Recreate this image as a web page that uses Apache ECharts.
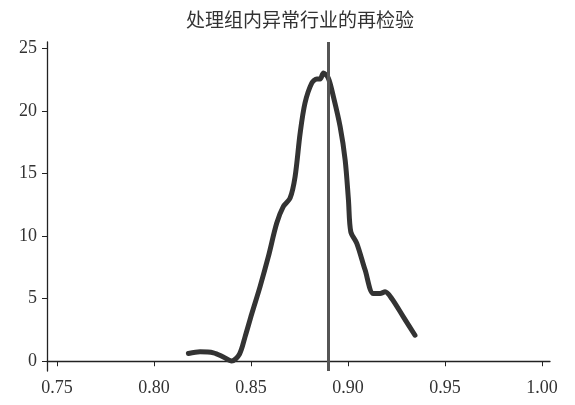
<!DOCTYPE html>
<html>
<head>
<meta charset="utf-8">
<script src="https://cdn.jsdelivr.net/npm/echarts@6/dist/echarts.min.js"></script>
<style>html,body{margin:0;padding:0;background:#fff}#c{width:575px;height:405px}</style>
</head>
<body>
<div id="c"></div>
<script>
const titleText = "处理组内异常行业的再检验";
const xValues = [0.8177,0.8237,0.8306,0.8357,0.8400,0.8440,0.8469,0.8504,0.8546,0.8589,0.8632,0.8666,0.8701,0.8727,0.8753,0.8778,0.8813,0.8839,0.8856,0.8873,0.8898,0.8924,0.8959,0.8985,0.9002,0.9014,0.9045,0.9088,0.9130,0.9165,0.9191,0.9225,0.9285,0.9345];
const yValues = [0.62,0.75,0.67,0.34,0.02,0.56,1.95,3.82,5.95,8.36,11.03,12.36,13.04,14.77,18.24,20.65,22.25,22.57,22.57,23.05,22.65,21.18,18.77,16.1,12.9,10.36,9.43,7.29,5.42,5.42,5.55,5.02,3.55,2.08];
const xTicks = [0.75,0.80,0.85,0.90,0.95,1.00];
const yTicks = [0,5,10,15,20,25];
const refLineX = 0.8865;

const chart = echarts.init(document.getElementById('c'), null, {renderer:'canvas'});
const axisFont = {fontFamily:'Liberation Serif', fontSize:18, color:'#333'};
chart.setOption({
  animation:false,
  title:{text:titleText,left:295,top:5,textAlign:'center',
    textStyle:{fontFamily:'Noto Sans CJK SC',fontSize:19,fontWeight:'normal',color:'#333'}},
  grid:{left:47,top:42,width:503,height:329},
  xAxis:{type:'value',min:0.7448,max:1.0041,
    axisLine:{lineStyle:{color:'#222',width:1.3}},
    axisTick:{show:true,length:5,customValues:xTicks,lineStyle:{color:'#222'}},
    axisLabel:Object.assign({customValues:xTicks,margin:8,formatter:v=>v.toFixed(2)},axisFont),
    splitLine:{show:false}},
  yAxis:{type:'value',min:-0.78,max:25.53,
    axisLine:{show:true,lineStyle:{color:'#222',width:1.3}},
    axisTick:{show:true,length:5,customValues:yTicks,lineStyle:{color:'#222'}},
    axisLabel:Object.assign({customValues:yTicks,margin:10},axisFont),
    splitLine:{show:false}},
  series:[{type:'line',data:xValues.map((x,i)=>[x,yValues[i]]),
    smooth:0.3,showSymbol:false,symbol:'none',
    lineStyle:{color:'#333',width:5,cap:'round',join:'round'},
    markLine:{silent:true,symbol:'none',label:{show:false},
      lineStyle:{color:'#555',width:3,type:'solid'},
      data:[{xAxis:refLineX}]}
  }]
});
</script>
</body>
</html>
